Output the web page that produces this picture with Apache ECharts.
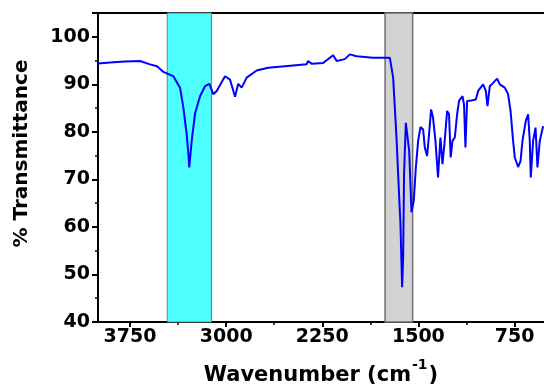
<!DOCTYPE html>
<html lang="en">
<head>
    <meta charset="UTF-8">
    <title>FTIR spectrum</title>
    <script src="https://cdn.jsdelivr.net/npm/echarts@6/dist/echarts.min.js"></script>
    <style type="text/css">
        html, body { margin: 0; padding: 0; background: #fff; }
        #main { width: 544px; height: 384px; }
    </style>
</head>
<body>
    <div id="main"></div>
    <script>
        // spectrum: wavenumber (cm-1) and % transmittance
        var wavenumber = [4000, 3906, 3789, 3672, 3594, 3539, 3490, 3412, 3360, 3334, 3308, 3295, 3288, 3269, 3243,
            3204, 3165, 3131, 3100, 3074, 3009, 2970, 2931, 2906, 2879, 2840, 2762, 2672, 2542, 2372,
            2362, 2331, 2243, 2165, 2138, 2074, 2035, 1983, 1853, 1723, 1697, 1684, 1671, 1651, 1640,
            1627, 1619, 1612, 1598, 1585, 1572, 1561, 1554, 1536, 1520, 1502, 1484, 1463, 1450, 1432,
            1417, 1401, 1386, 1367, 1347, 1328, 1312, 1297, 1276, 1261, 1248, 1234, 1216, 1198, 1183,
            1156, 1144, 1133, 1120, 1086, 1052, 1034, 995, 974, 961, 943, 917, 886, 865, 826,
            800, 781, 761, 748, 722, 703, 688, 662, 644, 631, 623, 605, 586, 571, 553, 527];
        var transmittance = [94.4, 94.6, 94.8, 94.9, 94.2, 93.8, 92.6, 91.7, 89.3, 85.1, 79.5, 75.4, 72.5, 78.1, 83.8,
            87.5, 89.6, 90.1, 87.9, 88.6, 91.7, 91.0, 87.4, 90.1, 89.3, 91.4, 92.9, 93.5, 93.8, 94.2,
            94.9, 94.3, 94.5, 96.1, 94.9, 95.3, 96.3, 95.9, 95.6, 95.6, 91.4, 85.1, 78.8, 66.9, 60.6,
            47.3, 53.6, 71.1, 81.9, 81.6, 76.0, 68.3, 63.1, 65.5, 72.5, 78.1, 81.0, 80.5, 76.7, 74.9,
            79.5, 84.7, 83.0, 78.1, 70.4, 78.8, 73.2, 77.4, 84.4, 83.7, 74.6, 78.1, 78.8, 83.7, 86.5,
            87.5, 85.8, 76.7, 86.5, 86.6, 86.8, 88.6, 90.0, 88.6, 85.4, 89.6, 90.3, 91.2, 90.0, 89.3,
            87.9, 84.4, 78.1, 74.6, 72.6, 73.9, 78.1, 82.3, 83.7, 78.1, 70.4, 78.1, 80.9, 72.5, 78.1, 81.2];
        var xTicks = [3750, 3000, 2250, 1500, 750];
        var xMinorTicks = [3375, 2625, 1875, 1125];
        // highlighted bands [from, to]
        var cyanBand = [3460, 3115];
        var grayBand = [1760, 1545];

        var myChart = echarts.init(document.getElementById('main'));
        var font = 'DejaVu Sans';
        var points = wavenumber.map(function (w, i) { return [w, transmittance[i]]; });

        var option = {
            animation: false,
            backgroundColor: '#fff',
            grid: { left: 98, right: 0, top: 13, bottom: 62, outerBoundsMode: 'none' },
            xAxis: [
                {
                    type: 'value',
                    inverse: true,
                    min: 520,
                    max: 4000,
                    position: 'bottom',
                    name: '{t|Wavenumber (cm}{s|-1}{t|)}',
                    nameLocation: 'middle',
                    nameGap: 36,
                    nameTextStyle: {
                        rich: {
                            t: { fontFamily: font, fontWeight: 'bold', fontSize: 21, color: '#000', verticalAlign: 'bottom' },
                            s: { fontFamily: font, fontWeight: 'bold', fontSize: 14, color: '#000', verticalAlign: 'bottom', padding: [0, 1, 14, 1] }
                        }
                    },
                    axisLine: { show: true, onZero: false, lineStyle: { color: '#000', width: 2 } },
                    axisTick: { show: true, length: 5, lineStyle: { color: '#000', width: 2 }, customValues: xTicks },
                    axisLabel: {
                        customValues: xTicks,
                        formatter: function (v) { return String(v); },
                        fontFamily: font, fontWeight: 'bold', fontSize: 19, color: '#000', margin: 6
                    },
                    splitLine: { show: false }
                },
                {
                    // minor ticks
                    type: 'value', inverse: true, min: 520, max: 4000, position: 'bottom',
                    axisLine: { show: false },
                    axisTick: { show: true, length: 3, lineStyle: { color: '#000', width: 1.5 }, customValues: xMinorTicks },
                    axisLabel: { show: false },
                    splitLine: { show: false }
                },
                {
                    // top frame line
                    type: 'value', inverse: true, min: 520, max: 4000, position: 'top',
                    axisLine: { show: true, onZero: false, lineStyle: { color: '#000', width: 2 } },
                    axisTick: { show: false },
                    axisLabel: { show: false },
                    splitLine: { show: false }
                }
            ],
            yAxis: {
                type: 'value',
                min: 40,
                max: 105,
                interval: 10,
                name: '% Transmittance',
                nameLocation: 'middle',
                nameGap: 66,
                nameTextStyle: { fontFamily: font, fontWeight: 'bold', fontSize: 20, color: '#000', padding: [0, 0, 0, 28] },
                axisLine: { show: true, onZero: false, lineStyle: { color: '#000', width: 2 } },
                axisTick: { show: true, length: 6, lineStyle: { color: '#000', width: 2 } },
                minorTick: { show: true, splitNumber: 2, length: 3, lineStyle: { color: '#000', width: 1.5 } },
                axisLabel: { showMaxLabel: false, fontFamily: font, fontWeight: 'bold', fontSize: 19, color: '#000', margin: 8 },
                splitLine: { show: false }
            },
            series: [
                {
                    // bands behind the spectrum
                    type: 'line',
                    data: [],
                    z: 1,
                    silent: true,
                    markArea: {
                        silent: true,
                        data: [
                            [{ xAxis: cyanBand[0], yAxis: 40, itemStyle: { color: '#4dffff', borderColor: '#6f7f7f', borderWidth: 1 } },
                             { xAxis: cyanBand[1], yAxis: 105 }],
                            [{ xAxis: grayBand[0], yAxis: 40, itemStyle: { color: '#d3d3d3', borderColor: '#707070', borderWidth: 1.5 } },
                             { xAxis: grayBand[1], yAxis: 105 }]
                        ]
                    }
                },
                {
                    name: 'spectrum',
                    type: 'line',
                    data: points,
                    z: 3,
                    showSymbol: false,
                    symbol: 'none',
                    lineStyle: { color: '#0000ff', width: 2 }
                }
            ]
        };
        myChart.setOption(option);
    </script>
</body>
</html>
